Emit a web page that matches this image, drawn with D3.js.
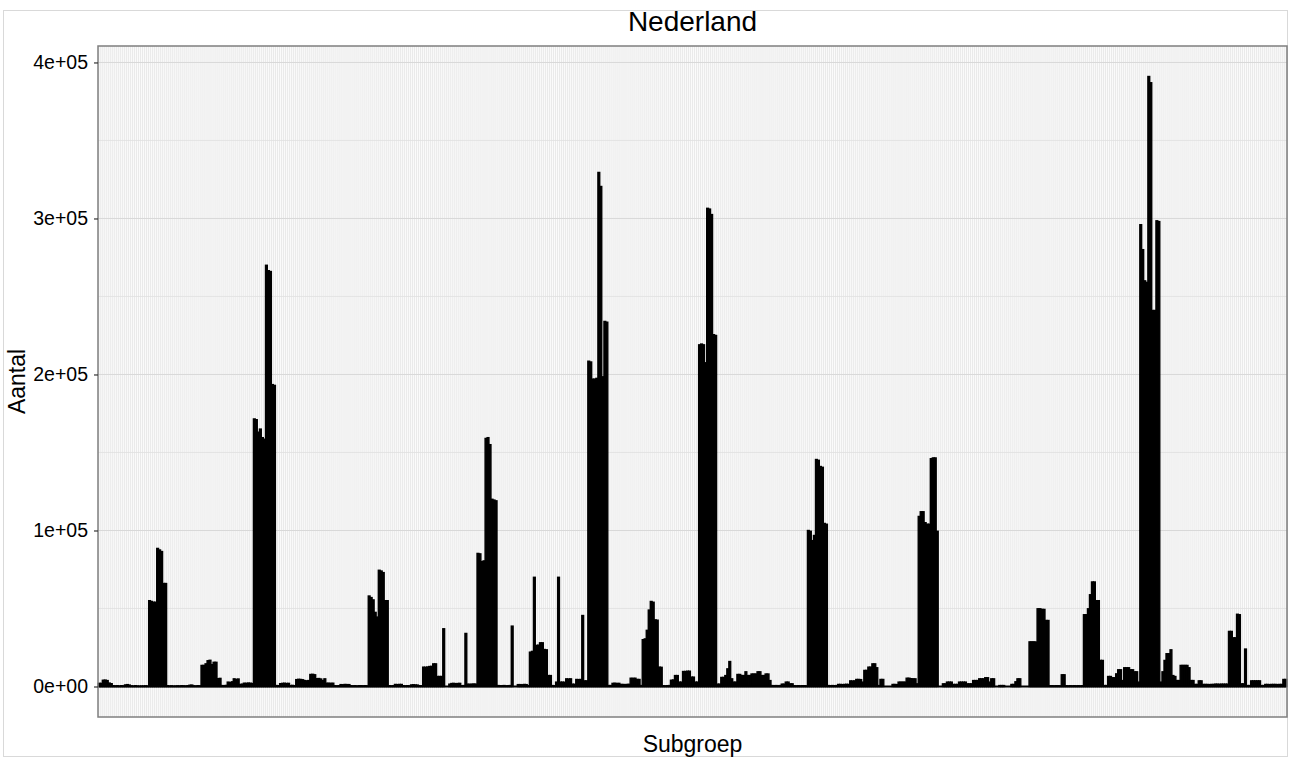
<!DOCTYPE html>
<html>
<head>
<meta charset="utf-8">
<script src="https://cdn.jsdelivr.net/npm/d3@7"></script>
<style>
body { margin: 0; background: #fff; }
text { font-family: "Liberation Sans", Arial, sans-serif; fill: #000; }
</style>
</head>
<body>
<svg id="chart" width="1291" height="758"></svg>
<script>
const title = 'Nederland';
const xLabel = 'Subgroep';
const yLabel = 'Aantal';
const yTicks = [0, 100000, 200000, 300000, 400000];
const yMinor = [50000, 150000, 250000, 350000];

// one value per subgroup left to right
const counts = [
	2000, 2000, 4000, 4100, 3800, 2200, 1800, 500, 400, 500,
	300, 500, 400, 1000, 1200, 900, 400, 300, 500, 300,
	200, 300, 300, 400, 300, 55000, 54500, 54000, 54000, 88500,
	87500, 86500, 66000, 66000, 500, 300, 400, 200, 300, 400,
	300, 500, 400, 300, 500, 800, 900, 400, 300, 500,
	400, 13500, 13500, 14500, 16500, 16800, 14000, 15500, 15500, 5000,
	5200, 600, 500, 700, 2800, 2500, 3000, 4900, 4500, 4800,
	1300, 1500, 2100, 2000, 2200, 2100, 1900, 171500, 171000, 163000,
	165000, 159500, 158500, 270000, 266500, 266000, 193500, 193000, 600, 500,
	1800, 2000, 2100, 1900, 2000, 600, 700, 500, 4400, 4600,
	4500, 4300, 3800, 3600, 3800, 7700, 7800, 7500, 5000, 5100,
	4800, 3800, 4900, 2100, 2100, 2000, 2100, 500, 400, 500,
	1200, 1100, 1300, 1200, 1200, 500, 400, 500, 300, 500,
	500, 400, 500, 400, 58000, 57000, 55500, 47500, 44500, 74500,
	74000, 73000, 55000, 55000, 500, 400, 500, 1300, 1200, 1300,
	1300, 500, 400, 500, 400, 1000, 1100, 1000, 900, 500,
	500, 12400, 12300, 12500, 12800, 12900, 14500, 14500, 6400, 6400,
	6400, 37000, 0, 0, 1500, 1900, 2000, 1800, 1900, 2000,
	500, 600, 34000, 1500, 1400, 1500, 1600, 1500, 85300, 85000,
	80000, 80500, 159000, 159500, 155000, 120000, 119500, 119000, 600, 500,
	500, 600, 400, 500, 600, 38700, 0, 0, 1200, 1200,
	1100, 1300, 1200, 600, 22000, 22500, 70000, 26300, 26500, 28000,
	28000, 23700, 23500, 7000, 7000, 600, 500, 2800, 70000, 2800,
	2800, 2700, 4900, 4800, 4900, 1500, 1400, 4500, 4400, 4500,
	45500, 3600, 3600, 208500, 208000, 197000, 197000, 197500, 329500, 320500,
	198500, 234000, 233500, 600, 600, 2000, 2100, 1900, 2000, 1300,
	1300, 1200, 1300, 1400, 5300, 5200, 5300, 4500, 4500, 600,
	30000, 30500, 36000, 49000, 54500, 54000, 42700, 42500, 12400, 12300,
	500, 400, 500, 600, 4000, 4200, 7000, 7000, 2800, 2800,
	9600, 9600, 9800, 9800, 6000, 6000, 2800, 2800, 219000, 219500,
	219000, 207500, 306500, 306000, 302500, 225500, 225000, 1500, 1500, 5800,
	5800, 7000, 11300, 16000, 4900, 2800, 2800, 7700, 7700, 7000,
	7000, 9400, 7000, 7000, 8000, 8000, 8000, 9400, 9400, 7000,
	7000, 8000, 8000, 3800, 600, 500, 600, 500, 600, 1500,
	1500, 2800, 2800, 1700, 1700, 500, 400, 500, 400, 500,
	500, 400, 100000, 99500, 93500, 96800, 145500, 145000, 141000, 140500,
	104500, 104000, 600, 500, 600, 500, 600, 1300, 1300, 1200,
	1300, 1400, 1300, 3600, 3500, 3600, 4500, 4500, 4400, 2800,
	10300, 10300, 12400, 12400, 14500, 14500, 12000, 600, 4500, 4500,
	0, 0, 0, 0, 1300, 1300, 1200, 2800, 2800, 2800,
	2800, 5300, 5300, 5000, 4900, 4900, 1700, 109000, 112000, 112000,
	105000, 104000, 104000, 146000, 146500, 146500, 99500, 0, 0, 1700,
	1700, 2800, 2800, 2800, 1300, 1300, 1300, 2800, 2800, 2800,
	2800, 1700, 1700, 1700, 3800, 3800, 3800, 4900, 4900, 4900,
	5600, 5600, 2800, 4900, 4900, 0, 0, 600, 600, 600,
	0, 0, 0, 1300, 1300, 3000, 4900, 4900, 0, 0,
	0, 0, 28600, 28600, 28600, 28500, 49800, 49800, 49400, 49400,
	42300, 42300, 500, 500, 400, 500, 500, 400, 7500, 7500,
	500, 400, 500, 400, 500, 400, 500, 400, 500, 46000,
	46000, 49800, 58800, 67000, 67000, 55000, 55000, 16700, 16700, 600,
	600, 6400, 6400, 5600, 5600, 8100, 10700, 10700, 3800, 12000,
	12000, 12000, 10700, 10700, 9400, 9400, 2800, 296000, 280000, 260000,
	259000, 391000, 387000, 241000, 241000, 298500, 298000, 2800, 9400, 16700,
	21000, 21000, 23500, 7000, 6400, 3800, 3800, 13500, 13500, 13500,
	13500, 12000, 3800, 3800, 1300, 1300, 3600, 3600, 1300, 1300,
	1300, 1200, 1300, 1300, 1500, 1500, 1400, 1500, 1500, 1500,
	1500, 35300, 35300, 31200, 31200, 46300, 46000, 1700, 1700, 24000,
	600, 600, 3600, 3600, 3600, 3600, 3600, 600, 600, 1300,
	1300, 1200, 1300, 1300, 1300, 1200, 1300, 1300, 4500, 4500
];
const subgroups = counts.map((d, i) => 'sg' + (i + 1));

const panel = { left: 98, right: 1287, top: 46, bottom: 717 };

const svg = d3.select('#chart');

const x = d3.scaleBand()
	.domain(subgroups)
	.range([panel.left, panel.right])
	.paddingInner(0.1)
	.paddingOuter(0.15);

const maxVal = d3.max(counts);
const pad = maxVal * 0.05;
const y = d3.scaleLinear()
	.domain([-pad, maxVal + pad])
	.range([panel.bottom, panel.top]);

const sci = v => {
	if (v === 0) return '0e+00';
	const e = Math.floor(Math.log10(v));
	return (v / Math.pow(10, e)) + 'e+' + String(e).padStart(2, '0');
};

// outer frame
svg.append('rect')
	.attr('x', 3.5).attr('y', 10.5)
	.attr('width', 1284).attr('height', 746)
	.attr('fill', 'none')
	.attr('stroke', '#d9d9d9');

// panel background
svg.append('rect')
	.attr('x', panel.left).attr('y', panel.top)
	.attr('width', panel.right - panel.left)
	.attr('height', panel.bottom - panel.top)
	.attr('fill', '#eaeaea');

// vertical grid, one per subgroup
svg.append('g')
	.selectAll('line')
	.data(subgroups)
	.join('line')
	.attr('x1', d => x(d) + x.bandwidth() / 2)
	.attr('x2', d => x(d) + x.bandwidth() / 2)
	.attr('y1', panel.top)
	.attr('y2', panel.bottom)
	.attr('stroke', '#ffffff')
	.attr('stroke-width', 0.8);

svg.append('g')
	.selectAll('line')
	.data(yMinor)
	.join('line')
	.attr('x1', panel.left).attr('x2', panel.right)
	.attr('y1', d => y(d)).attr('y2', d => y(d))
	.attr('stroke', '#e0e0e0')
	.attr('stroke-width', 0.8);

svg.append('g')
	.selectAll('line')
	.data(yTicks)
	.join('line')
	.attr('x1', panel.left).attr('x2', panel.right)
	.attr('y1', d => y(d)).attr('y2', d => y(d))
	.attr('stroke', '#d8d8d8')
	.attr('stroke-width', 1);

// bars
svg.append('g')
	.selectAll('rect')
	.data(counts)
	.join('rect')
	.attr('x', (d, i) => x(subgroups[i]))
	.attr('width', x.bandwidth())
	.attr('y', d => y(d))
	.attr('height', d => y(0) - y(d))
	.attr('fill', '#000')
	.attr('stroke', '#000')
	.attr('stroke-width', 1.4);

// outline of the empty bars along zero
svg.append('line')
	.attr('x1', x(subgroups[0]))
	.attr('x2', x(subgroups[subgroups.length - 1]) + x.bandwidth())
	.attr('y1', y(0)).attr('y2', y(0))
	.attr('stroke', '#000')
	.attr('stroke-width', 2.2);

// panel border
svg.append('rect')
	.attr('x', panel.left).attr('y', panel.top)
	.attr('width', panel.right - panel.left)
	.attr('height', panel.bottom - panel.top)
	.attr('fill', 'none')
	.attr('stroke', '#7f7f7f')
	.attr('stroke-width', 1.5);

// y axis
const yAxis = svg.append('g')
	.attr('transform', `translate(${panel.left},0)`)
	.call(d3.axisLeft(y).tickValues(yTicks).tickFormat(sci).tickSize(4).tickPadding(6));
yAxis.select('.domain').remove();
yAxis.selectAll('.tick line').attr('stroke', '#333').attr('stroke-width', 1.2);
yAxis.selectAll('.tick text')
	.attr('font-size', 19.5)
	.attr('font-family', '"Liberation Sans", Arial, sans-serif')
	.attr('fill', '#000');

svg.append('text')
	.attr('x', (panel.left + panel.right) / 2)
	.attr('y', 31)
	.attr('text-anchor', 'middle')
	.attr('font-size', 28)
	.text(title);

svg.append('text')
	.attr('x', (panel.left + panel.right) / 2)
	.attr('y', 752)
	.attr('text-anchor', 'middle')
	.attr('font-size', 23)
	.text(xLabel);

svg.append('text')
	.attr('transform', `translate(25,${(panel.top + panel.bottom) / 2}) rotate(-90)`)
	.attr('text-anchor', 'middle')
	.attr('font-size', 23)
	.text(yLabel);
</script>
</body>
</html>
